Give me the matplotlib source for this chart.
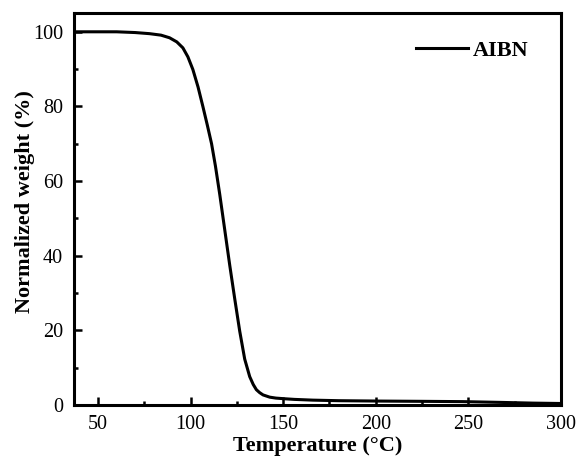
import matplotlib
matplotlib.use("Agg")
import matplotlib.pyplot as plt
from matplotlib.ticker import MultipleLocator

# TGA trace of AIBN, read point by point
temperature = [37, 50, 60, 70, 77.8, 84, 88.6, 92.5, 95.8, 98.5, 101.2, 104, 106.6,
               109, 111.3, 113.4, 115.7, 118.4, 121.1, 123.8, 126.5, 129.2, 131.9,
               133.8, 135.5, 137.3, 139.1, 142.7, 146, 149.9, 156, 166, 180, 202,
               225, 247, 267, 285, 300]
weight = [100, 100, 100, 99.8, 99.5, 99.1, 98.4, 97.3, 95.7, 93.3, 89.9, 85.2, 80.0,
          75.0, 70.0, 64.0, 56.5, 47.0, 37.5, 28.5, 19.8, 12.3, 7.6,
          5.5, 4.1, 3.3, 2.7, 2.1, 1.85, 1.7, 1.5, 1.3, 1.15, 1.05,
          0.98, 0.9, 0.7, 0.5, 0.4]
series_label = "AIBN"

plt.rcParams['font.family'] = ['Liberation Serif', 'DejaVu Serif']

fig = plt.figure(figsize=(5.81, 4.61), dpi=100)
ax = fig.add_axes([0.1274, 0.1215, 0.838, 0.850])

ax.plot(temperature, weight, color="black", lw=2.2, label=series_label)

ax.set_xlim(37, 300)
ax.set_ylim(0, 105)
ax.xaxis.set_major_locator(MultipleLocator(50))
ax.xaxis.set_minor_locator(MultipleLocator(25))
ax.yaxis.set_major_locator(MultipleLocator(20))
ax.yaxis.set_minor_locator(MultipleLocator(10))

ax.tick_params(which="both", direction="in", width=1.8, labelsize=14.5, colors="black")
ax.tick_params(which="major", length=6)
ax.tick_params(which="minor", length=3)
ax.tick_params(axis="x", which="major", pad=7)
ax.tick_params(axis="y", which="major", pad=8)
for sp in ax.spines.values():
    sp.set_linewidth(2.2)

ax.set_xlabel("Temperature (\u00b0C)", fontsize=16, fontweight="bold", labelpad=2)
ax.set_ylabel("Normalized weight (%)", fontsize=16, fontweight="bold")
ax.yaxis.set_label_coords(-0.08, 0.52)

leg = ax.legend(loc="center right", bbox_to_anchor=(0.934, 0.905), frameon=False,
                handlelength=2.3, handletextpad=0.25, borderpad=0, borderaxespad=0,
                prop={"weight": "bold", "size": 16})

fig.savefig("out.png", dpi=100)
